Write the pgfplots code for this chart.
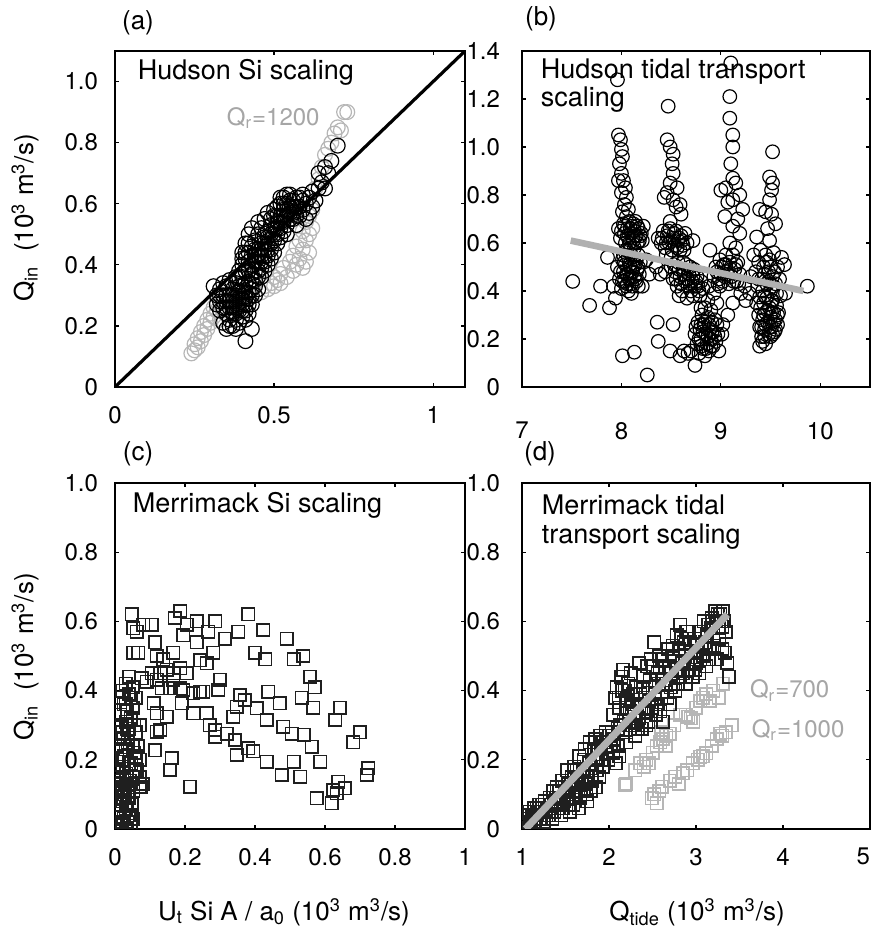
\documentclass[border=0pt]{standalone}
\usepackage{fontspec}
\setmainfont{TeX Gyre Heros}
\usepackage{pgfplots}
\pgfplotsset{compat=1.18}
\definecolor{ptgray}{HTML}{B6B6B6}
\definecolor{fitgray}{HTML}{B0B0B0}
\definecolor{txtgray}{HTML}{A6A6A6}

\newcommand{\tickfont}{\fontsize{12bp}{14bp}\selectfont}
\newcommand{\notefont}{\fontsize{13.5bp}{16bp}\selectfont}
\newcommand{\qrfont}{\fontsize{12bp}{14bp}\selectfont}
\newcommand{\labfont}{\fontsize{13bp}{15bp}\selectfont}

\pgfplotsset{
  panel/.style={
    scale only axis,
    clip marker paths=true,
    axis line style={line width=1bp},
    tick align=inside,
    major tick length=2.2bp,
    tick style={line width=0.6bp,black},
    tick label style={font=\tickfont},
    /pgf/number format/assume math mode=true,
    xticklabel style={yshift=-6bp},
    yticklabel style={xshift=-5bp},
  },
  circ/.style={only marks,mark=o,mark size=3.7bp,mark options={line width=0.6bp}},
  sq/.style={only marks,mark=square,mark size=3.1bp,mark options={line width=0.8bp}},
}

\begin{document}
\begin{tikzpicture}
\useasboundingbox (0,0) rectangle (436.5bp,463.5bp);

% (a) Hudson Si scaling
\begin{axis}[panel,at={(57.5bp,270bp)},anchor=south west,
  width=175bp,height=168bp,
  xmin=0,xmax=1.1,ymin=0,ymax=1.1,
  xtick={0,0.5,1},xticklabels={0,0.5,1},
  ytick={0,0.2,0.4,0.6,0.8,1.0},yticklabels={0,0.2,0.4,0.6,0.8,1.0}]
\addplot[circ,draw=ptgray] table {
0.24 0.11
0.25 0.12
0.25 0.14
0.26 0.13
0.26 0.16
0.27 0.15
0.27 0.18
0.28 0.17
0.28 0.20
0.29 0.19
0.29 0.22
0.30 0.21
0.30 0.24
0.31 0.23
0.31 0.26
0.32 0.25
0.32 0.28
0.33 0.22
0.34 0.25
0.44 0.30
0.46 0.31
0.47 0.33
0.48 0.32
0.49 0.34
0.50 0.33
0.50 0.36
0.51 0.35
0.52 0.37
0.52 0.34
0.53 0.39
0.54 0.36
0.55 0.41
0.56 0.38
0.56 0.43
0.57 0.40
0.57 0.46
0.58 0.42
0.58 0.48
0.59 0.45
0.59 0.51
0.60 0.48
0.60 0.54
0.61 0.50
0.61 0.56
0.61 0.44
0.62 0.52
0.62 0.58
0.60 0.41
0.59 0.39
0.63 0.61
0.63 0.65
0.64 0.68
0.65 0.72
0.66 0.76
0.67 0.78
0.68 0.80
0.69 0.83
0.70 0.85
0.71 0.84
0.73 0.90
0.72 0.90
};
\addplot[circ,draw=black] table {
0.31 0.33
0.32 0.30
0.33 0.28
0.33 0.32
0.34 0.26
0.34 0.30
0.35 0.24
0.35 0.28
0.35 0.33
0.36 0.22
0.36 0.26
0.36 0.30
0.37 0.20
0.37 0.24
0.37 0.28
0.37 0.32
0.38 0.22
0.38 0.26
0.38 0.30
0.38 0.34
0.39 0.21
0.39 0.25
0.39 0.29
0.39 0.33
0.40 0.23
0.40 0.27
0.40 0.31
0.40 0.36
0.41 0.25
0.41 0.29
0.41 0.34
0.42 0.27
0.42 0.31
0.42 0.38
0.43 0.30
0.43 0.35
0.44 0.33
0.35 0.19
0.34 0.21
0.41 0.15
0.43 0.19
0.38 0.19
0.39 0.38
0.40 0.40
0.40 0.44
0.41 0.42
0.41 0.47
0.42 0.44
0.42 0.50
0.43 0.40
0.43 0.46
0.43 0.52
0.44 0.38
0.44 0.43
0.44 0.48
0.45 0.36
0.45 0.41
0.45 0.45
0.45 0.50
0.45 0.54
0.46 0.39
0.46 0.43
0.46 0.47
0.46 0.52
0.47 0.41
0.47 0.45
0.47 0.49
0.47 0.55
0.48 0.43
0.48 0.47
0.48 0.51
0.48 0.57
0.49 0.45
0.49 0.50
0.49 0.53
0.50 0.48
0.50 0.52
0.50 0.56
0.51 0.50
0.51 0.54
0.51 0.59
0.52 0.52
0.52 0.56
0.52 0.60
0.53 0.54
0.53 0.58
0.53 0.62
0.54 0.50
0.54 0.56
0.54 0.60
0.55 0.55
0.55 0.59
0.55 0.63
0.56 0.57
0.56 0.61
0.57 0.53
0.57 0.59
0.58 0.56
0.58 0.62
0.59 0.58
0.59 0.63
0.60 0.55
0.60 0.60
0.61 0.57
0.61 0.62
0.62 0.59
0.62 0.64
0.63 0.61
0.64 0.65
0.64 0.70
0.65 0.67
0.66 0.65
0.66 0.72
0.68 0.74
0.70 0.79
0.67 0.70
0.32 0.27
0.33 0.25
0.34 0.34
0.35 0.30
0.36 0.35
0.36 0.20
0.37 0.26
0.38 0.24
0.38 0.36
0.39 0.27
0.39 0.31
0.40 0.25
0.40 0.29
0.40 0.33
0.41 0.22
0.41 0.27
0.41 0.31
0.41 0.38
0.42 0.24
0.42 0.29
0.42 0.34
0.43 0.27
0.43 0.32
0.43 0.37
0.44 0.30
0.44 0.35
0.44 0.41
0.45 0.32
0.45 0.38
0.45 0.43
0.46 0.36
0.46 0.41
0.46 0.45
0.47 0.38
0.47 0.43
0.47 0.47
0.48 0.40
0.48 0.45
0.48 0.49
0.49 0.42
0.49 0.47
0.49 0.55
0.50 0.44
0.50 0.50
0.50 0.58
0.51 0.47
0.51 0.52
0.51 0.56
0.52 0.49
0.52 0.54
0.52 0.62
0.53 0.51
0.53 0.56
0.53 0.60
0.54 0.53
0.54 0.58
0.54 0.63
0.55 0.57
0.55 0.61
0.56 0.55
0.56 0.59
0.57 0.56
0.57 0.62
0.58 0.59
0.59 0.61
0.44 0.45
0.43 0.43
0.42 0.41
0.42 0.47
0.41 0.44
0.40 0.42
0.39 0.36
0.38 0.28
0.37 0.30
0.36 0.28
0.35 0.26
0.34 0.28
0.33 0.30
};
\addplot[black,line width=1.6bp] coordinates {(0,0) (1.1,1.1)};
\node[anchor=west,font=\notefont] at (rel axis cs:0.045,0.9375) {Hudson Si scaling};
\node[anchor=east,font=\qrfont,text=txtgray] at (axis cs:0.665,0.88) {Q\textsubscript{r}=1200};
\end{axis}

% (b) Hudson tidal transport scaling
\begin{axis}[panel,at={(261bp,270bp)},anchor=south west,
  width=174bp,height=168bp,
  xmin=7,xmax=10.5,ymin=0,ymax=1.4,
  xtick={7,8,9,10},xticklabels={7,8,9,10},
  ytick={0,0.2,0.4,0.6,0.8,1.0,1.2,1.4},yticklabels={0,0.2,0.4,0.6,0.8,1.0,1.2,1.4},
  xticklabel style={yshift=-8bp},yticklabel style={xshift=-2.5bp}]
\addplot[circ,draw=black,mark size=3.4bp] table {
7.96 1.28
7.97 1.05
7.99 1.03
8.00 0.99
8.01 0.96
7.98 0.93
8.00 0.89
8.02 0.86
7.97 0.86
8.04 0.83
8.00 0.81
8.05 0.79
8.03 0.76
8.07 0.74
8.01 0.73
8.05 0.71
7.97 0.66
7.99 0.62
8.02 0.68
8.03 0.64
8.04 0.60
8.06 0.66
8.07 0.62
8.08 0.69
8.09 0.58
8.10 0.64
8.11 0.67
8.12 0.61
8.13 0.65
8.14 0.69
8.15 0.63
8.17 0.66
8.18 0.61
8.20 0.64
8.22 0.67
8.05 0.57
8.13 0.58
8.00 0.65
8.03 0.67
8.06 0.63
8.08 0.60
8.09 0.66
8.11 0.62
8.12 0.68
8.14 0.63
8.16 0.60
8.16 0.67
8.19 0.63
8.21 0.61
7.96 0.50
7.98 0.45
8.00 0.41
8.01 0.53
8.02 0.48
8.03 0.44
8.04 0.51
8.05 0.42
8.06 0.47
8.07 0.54
8.08 0.45
8.09 0.50
8.10 0.43
8.11 0.48
8.12 0.53
8.13 0.46
8.14 0.51
8.15 0.44
8.16 0.49
8.17 0.55
8.18 0.47
8.19 0.52
8.07 0.40
8.04 0.56
7.99 0.48
8.01 0.44
8.03 0.52
8.05 0.47
8.06 0.43
8.08 0.51
8.09 0.46
8.10 0.55
8.11 0.42
8.12 0.50
8.14 0.45
8.15 0.53
8.17 0.42
8.17 0.50
8.02 0.55
8.10 0.39
7.51 0.44
7.68 0.34
7.79 0.42
7.88 0.33
7.94 0.37
7.86 0.54
7.92 0.42
8.01 0.13
8.13 0.145
8.26 0.05
8.21 0.42
8.25 0.53
8.28 0.47
8.47 1.17
8.46 1.03
8.49 1.00
8.52 0.97
8.51 0.93
8.52 0.89
8.49 0.85
8.56 0.83
8.46 0.81
8.52 0.78
8.59 0.76
8.60 0.72
8.49 0.69
8.43 0.79
8.55 0.75
8.37 0.62
8.40 0.60
8.42 0.65
8.44 0.58
8.46 0.63
8.48 0.60
8.49 0.66
8.51 0.57
8.52 0.62
8.54 0.59
8.55 0.65
8.57 0.61
8.59 0.57
8.60 0.63
8.62 0.59
8.64 0.64
8.66 0.60
8.50 0.54
8.45 0.55
8.41 0.62
8.45 0.60
8.47 0.65
8.50 0.61
8.53 0.64
8.56 0.58
8.58 0.62
8.61 0.61
8.63 0.57
8.50 0.50
8.52 0.45
8.54 0.48
8.56 0.42
8.57 0.52
8.59 0.46
8.61 0.40
8.62 0.49
8.64 0.44
8.65 0.51
8.67 0.42
8.68 0.47
8.70 0.40
8.71 0.44
8.73 0.49
8.74 0.42
8.76 0.46
8.78 0.40
8.80 0.44
8.82 0.41
8.58 0.38
8.66 0.37
8.53 0.51
8.55 0.45
8.58 0.49
8.60 0.43
8.63 0.47
8.66 0.45
8.69 0.43
8.72 0.46
8.75 0.44
8.77 0.42
8.69 0.50
8.62 0.52
8.79 0.38
8.72 0.38
8.36 0.27
8.52 0.26
8.37 0.19
8.49 0.15
8.59 0.13
8.74 0.09
8.72 0.61
8.89 0.57
8.67 0.14
8.39 0.47
8.35 0.50
8.44 0.48
8.80 0.33
8.63 0.15
8.74 0.22
8.76 0.18
8.77 0.27
8.78 0.14
8.79 0.24
8.80 0.20
8.81 0.30
8.82 0.16
8.83 0.26
8.84 0.13
8.85 0.22
8.86 0.18
8.87 0.29
8.88 0.15
8.89 0.24
8.90 0.20
8.91 0.27
8.92 0.17
8.93 0.23
8.95 0.19
8.96 0.26
8.98 0.15
8.75 0.25
8.78 0.20
8.80 0.17
8.82 0.23
8.84 0.27
8.85 0.16
8.87 0.21
8.88 0.26
8.90 0.17
8.91 0.23
8.94 0.21
8.94 0.28
8.97 0.22
8.80 0.26
8.84 0.33
8.87 0.36
8.90 0.32
8.93 0.39
8.88 0.42
8.96 0.35
8.99 0.42
8.70 0.15
9.01 0.22
9.10 1.35
9.09 1.21
9.09 1.12
9.12 1.05
9.12 1.00
9.10 0.93
9.12 0.87
9.15 0.85
9.05 0.83
9.00 0.82
9.19 0.80
9.12 0.78
9.22 0.74
9.04 0.71
9.12 0.67
9.19 0.64
9.09 0.60
9.15 0.58
9.07 0.77
9.17 0.70
8.93 0.46
8.95 0.50
8.97 0.43
8.99 0.53
9.00 0.47
9.02 0.44
9.03 0.51
9.05 0.55
9.06 0.48
9.08 0.43
9.09 0.52
9.11 0.46
9.12 0.55
9.14 0.49
9.16 0.44
9.17 0.52
9.19 0.47
8.96 0.48
8.98 0.45
9.01 0.50
9.04 0.46
9.05 0.51
9.07 0.47
9.10 0.49
9.13 0.44
9.15 0.51
9.18 0.43
9.02 0.26
9.12 0.35
9.20 0.39
9.29 0.39
9.39 0.375
9.07 0.30
9.24 0.42
9.52 0.98
9.49 0.875
9.52 0.85
9.51 0.82
9.49 0.78
9.39 0.74
9.51 0.72
9.55 0.68
9.36 0.625
9.49 0.61
9.45 0.73
9.47 0.66
9.33 0.55
9.35 0.48
9.37 0.42
9.38 0.52
9.40 0.57
9.41 0.45
9.43 0.50
9.44 0.38
9.45 0.55
9.46 0.43
9.48 0.48
9.49 0.53
9.50 0.40
9.52 0.46
9.53 0.56
9.55 0.43
9.57 0.50
9.59 0.45
9.61 0.54
9.38 0.45
9.42 0.40
9.44 0.47
9.46 0.52
9.48 0.44
9.50 0.50
9.51 0.36
9.53 0.42
9.54 0.48
9.56 0.39
9.36 0.35
9.38 0.30
9.39 0.25
9.40 0.33
9.41 0.21
9.42 0.28
9.43 0.35
9.44 0.24
9.45 0.31
9.46 0.37
9.47 0.27
9.48 0.22
9.49 0.33
9.50 0.29
9.51 0.25
9.52 0.36
9.53 0.31
9.54 0.23
9.55 0.28
9.56 0.34
9.57 0.26
9.58 0.31
9.60 0.38
9.43 0.30
9.45 0.26
9.47 0.32
9.49 0.25
9.51 0.31
9.53 0.27
9.55 0.24
9.57 0.30
9.41 0.25
9.44 0.21
9.50 0.21
9.52 0.22
9.39 0.17
9.42 0.19
9.45 0.18
9.87 0.42
9.64 0.51
9.65 0.39
9.30 0.46
9.25 0.36
};
\addplot[fitgray,line width=3.3bp] coordinates {(7.49,0.61) (9.83,0.40)};
\node[anchor=west,font=\notefont] at (rel axis cs:0.034,0.9375) {Hudson tidal transport};
\node[anchor=west,font=\notefont] at (rel axis cs:0.034,0.854) {scaling};
\end{axis}

% (c) Merrimack Si scaling
\begin{axis}[panel,at={(57.5bp,49bp)},anchor=south west,
  width=175bp,height=173bp,
  xmin=0,xmax=1,ymin=0,ymax=1,
  xtick={0,0.2,0.4,0.6,0.8,1},xticklabels={0,0.2,0.4,0.6,0.8,1},
  ytick={0,0.2,0.4,0.6,0.8,1.0},yticklabels={0,0.2,0.4,0.6,0.8,1.0}]
\addplot[sq,draw=black!88] table {
0.005 0.02
0.010 0.05
0.015 0.01
0.020 0.08
0.025 0.03
0.030 0.06
0.035 0.02
0.040 0.09
0.045 0.04
0.008 0.11
0.018 0.13
0.028 0.10
0.038 0.12
0.048 0.07
0.003 0.08
0.012 0.15
0.022 0.18
0.032 0.16
0.042 0.14
0.052 0.11
0.006 0.20
0.016 0.23
0.026 0.21
0.036 0.25
0.046 0.19
0.056 0.17
0.010 0.26
0.020 0.28
0.030 0.31
0.040 0.29
0.050 0.24
0.060 0.21
0.015 0.33
0.025 0.36
0.035 0.34
0.045 0.38
0.020 0.40
0.030 0.42
0.040 0.39
0.050 0.35
0.060 0.28
0.070 0.20
0.070 0.15
0.075 0.12
0.065 0.24
0.055 0.30
0.012 0.00
0.030 0.00
0.045 0.01
0.020 0.12
0.035 0.07
0.050 0.03
0.010 0.38
0.006 0.24
0.080 0.13
0.005 0.05
0.015 0.07
0.025 0.09
0.035 0.11
0.045 0.13
0.010 0.17
0.020 0.20
0.030 0.23
0.040 0.19
0.050 0.15
0.015 0.30
0.025 0.26
0.035 0.29
0.045 0.32
0.055 0.22
0.005 0.14
0.030 0.36
0.040 0.44
0.050 0.41
0.060 0.38
0.070 0.30
0.020 0.02
0.040 0.04
0.008 0.00
0.048 0.62
0.052 0.58
0.062 0.57
0.067 0.51
0.052 0.51
0.081 0.59
0.105 0.59
0.114 0.54
0.119 0.50
0.138 0.49
0.167 0.51
0.186 0.63
0.171 0.61
0.195 0.56
0.205 0.59
0.233 0.60
0.233 0.54
0.267 0.57
0.286 0.60
0.281 0.51
0.314 0.55
0.352 0.57
0.381 0.62
0.424 0.575
0.400 0.51
0.429 0.49
0.490 0.55
0.510 0.49
0.538 0.50
0.557 0.44
0.571 0.41
0.533 0.38
0.567 0.35
0.643 0.35
0.629 0.315
0.700 0.28
0.681 0.25
0.724 0.175
0.719 0.156
0.638 0.137
0.657 0.118
0.624 0.113
0.633 0.103
0.576 0.089
0.619 0.074
0.586 0.195
0.562 0.238
0.540 0.272
0.510 0.195
0.529 0.151
0.476 0.156
0.433 0.195
0.395 0.224
0.348 0.214
0.381 0.233
0.481 0.296
0.505 0.276
0.471 0.363
0.438 0.397
0.433 0.315
0.405 0.349
0.371 0.373
0.348 0.354
0.357 0.387
0.338 0.325
0.343 0.257
0.319 0.276
0.286 0.286
0.286 0.267
0.271 0.300
0.262 0.334
0.295 0.402
0.300 0.431
0.252 0.397
0.243 0.397
0.224 0.392
0.190 0.363
0.224 0.334
0.262 0.479
0.243 0.488
0.205 0.450
0.186 0.407
0.157 0.407
0.148 0.325
0.119 0.334
0.110 0.363
0.119 0.281
0.129 0.286
0.114 0.228
0.162 0.204
0.157 0.171
0.214 0.122
0.105 0.450
0.119 0.431
0.133 0.407
0.129 0.450
0.148 0.460
0.167 0.431
0.090 0.426
0.076 0.435
0.186 0.464
0.195 0.402
0.167 0.450
0.071 0.122
0.062 0.170
};
\node[anchor=west,font=\notefont] at (rel axis cs:0.031,0.936) {Merrimack Si scaling};
\end{axis}

% (d) Merrimack tidal transport scaling
\begin{axis}[panel,at={(261bp,49bp)},anchor=south west,
  width=174bp,height=173bp,
  xmin=1,xmax=5,ymin=0,ymax=1,
  xtick={1,2,3,4,5},xticklabels={1,2,3,4,\llap{5}},
  ytick={0,0.2,0.4,0.6,0.8,1.0},yticklabels={0,0.2,0.4,0.6,0.8,1.0},
  yticklabel style={xshift=-2.5bp}]
\addplot[sq,draw=ptgray] table {
2.18 0.127
2.20 0.13
2.30 0.17
2.36 0.19
2.40 0.18
2.43 0.20
2.46 0.19
2.50 0.22
2.55 0.24
2.59 0.25
2.62 0.26
2.65 0.24
2.70 0.276
2.75 0.30
2.82 0.33
2.88 0.33
2.91 0.325
2.94 0.32
2.97 0.31
3.00 0.35
3.05 0.37
3.08 0.38
3.12 0.39
3.16 0.37
3.20 0.40
3.26 0.38
3.31 0.42
2.60 0.28
2.66 0.27
2.49 0.089
2.52 0.10
2.55 0.074
2.58 0.11
2.61 0.122
2.70 0.14
2.76 0.151
2.80 0.13
2.85 0.161
2.90 0.17
2.96 0.19
3.02 0.20
3.05 0.209
3.08 0.21
3.12 0.219
3.18 0.24
3.24 0.26
3.28 0.276
3.30 0.27
3.34 0.28
3.41 0.30
};
\addplot[sq,draw=black!88] table {
1.00 0.02
1.02 0.04
1.04 0.01
1.06 0.03
1.08 0.05
1.10 0.02
1.12 0.04
1.14 0.06
1.16 0.03
1.18 0.05
1.20 0.07
1.22 0.03
1.24 0.05
1.26 0.08
1.28 0.04
1.30 0.06
1.32 0.09
1.34 0.05
1.36 0.11
1.38 0.07
1.40 0.12
1.42 0.06
1.44 0.09
1.46 0.14
1.48 0.08
1.50 0.11
1.52 0.17
1.54 0.07
1.56 0.13
1.58 0.10
1.60 0.18
1.62 0.09
1.64 0.14
1.66 0.21
1.68 0.11
1.70 0.17
1.72 0.23
1.74 0.10
1.76 0.15
1.78 0.25
1.80 0.14
1.82 0.20
1.84 0.26
1.86 0.17
1.88 0.23
1.90 0.27
1.92 0.20
1.94 0.25
1.96 0.28
1.98 0.22
2.00 0.27
2.02 0.24
2.05 0.33
2.07 0.38
2.09 0.41
2.10 0.29
2.12 0.35
2.14 0.44
2.15 0.40
2.17 0.31
2.19 0.37
2.20 0.28
2.22 0.42
2.24 0.34
2.26 0.30
2.28 0.39
2.30 0.27
2.32 0.36
2.34 0.32
2.36 0.39
2.38 0.29
2.40 0.44
2.42 0.34
2.44 0.47
2.46 0.37
2.48 0.49
2.50 0.41
2.52 0.54
2.54 0.33
2.56 0.45
2.58 0.50
2.60 0.38
2.62 0.31
2.64 0.47
2.66 0.42
2.68 0.52
2.70 0.36
2.72 0.45
2.74 0.50
2.76 0.40
2.78 0.56
2.80 0.44
2.82 0.59
2.84 0.48
2.86 0.54
2.88 0.42
2.90 0.57
2.92 0.46
2.94 0.51
2.96 0.44
2.98 0.55
3.00 0.48
3.02 0.53
3.04 0.45
3.06 0.57
3.08 0.50
3.10 0.54
3.12 0.47
3.14 0.59
3.16 0.52
3.18 0.61
3.20 0.56
3.22 0.63
3.24 0.49
3.26 0.58
3.28 0.62
3.30 0.52
3.32 0.60
3.34 0.57
3.36 0.48
3.38 0.44
3.30 0.585
1.03 0.05
1.01 0.00
1.07 0.00
1.15 0.01
1.25 0.02
1.35 0.03
1.45 0.04
1.55 0.05
1.65 0.06
1.75 0.08
1.85 0.12
2.10 0.24
2.20 0.25
2.16 0.46
2.25 0.45
2.35 0.48
2.12 0.21
2.08 0.19
2.05 0.22
2.45 0.31
2.55 0.36
1.05 0.03
1.09 0.01
1.13 0.02
1.17 0.06
1.21 0.04
1.23 0.07
1.27 0.05
1.31 0.04
1.33 0.07
1.37 0.05
1.39 0.09
1.41 0.08
1.43 0.11
1.47 0.06
1.49 0.12
1.51 0.09
1.53 0.13
1.57 0.15
1.59 0.07
1.61 0.12
1.63 0.17
1.67 0.09
1.69 0.14
1.71 0.20
1.73 0.13
1.77 0.19
1.79 0.11
1.81 0.17
1.83 0.23
1.87 0.20
1.89 0.15
1.91 0.24
1.93 0.18
1.97 0.25
1.99 0.20
2.03 0.28
2.06 0.26
2.11 0.38
2.13 0.30
2.18 0.40
2.21 0.35
2.23 0.31
2.27 0.36
2.29 0.33
2.31 0.41
2.33 0.29
2.37 0.35
2.39 0.41
2.41 0.38
2.43 0.30
2.47 0.43
2.49 0.35
2.51 0.47
2.53 0.39
2.57 0.42
2.59 0.34
2.61 0.49
2.63 0.43
2.67 0.38
2.69 0.47
2.71 0.41
2.73 0.53
2.77 0.46
2.79 0.42
2.81 0.52
2.83 0.55
2.85 0.45
2.87 0.50
2.89 0.57
2.91 0.48
2.93 0.54
2.97 0.49
2.99 0.46
3.01 0.51
3.03 0.57
3.05 0.49
3.07 0.53
3.09 0.60
3.11 0.52
3.13 0.56
3.15 0.49
3.17 0.58
3.19 0.60
3.21 0.53
3.23 0.60
3.25 0.62
3.27 0.55
3.29 0.60
3.31 0.63
3.33 0.51
};
\addplot[fitgray,line width=3.6bp] coordinates {(1.04,0) (3.36,0.62)};
\node[anchor=west,font=\notefont] at (rel axis cs:0.037,0.936) {Merrimack tidal};
\node[anchor=west,font=\notefont] at (rel axis cs:0.037,0.844) {transport scaling};
\node[anchor=west,font=\qrfont,text=txtgray] at (axis cs:3.54,0.40) {Q\textsubscript{r}=700};
\node[anchor=west,font=\qrfont,text=txtgray] at (axis cs:3.56,0.286) {Q\textsubscript{r}=1000};
\end{axis}

% panel letters and axis labels
\node[font=\labfont] at (69bp,452bp) {(a)};
\node[font=\labfont] at (270.5bp,454bp) {(b)};
\node[font=\labfont] at (69bp,236.5bp) {(c)};
\node[font=\labfont] at (270bp,236.5bp) {(d)};
\node[font=\labfont,rotate=90,anchor=base] at (16.5bp,354.5bp) {Q\textsubscript{in}\ \ (10\textsuperscript{3} m\textsuperscript{3}/s)};
\node[font=\labfont,rotate=90,anchor=base] at (16.5bp,135bp) {Q\textsubscript{in}\ \ (10\textsuperscript{3} m\textsuperscript{3}/s)};
\node[font=\labfont,anchor=base] at (142bp,3.5bp) {U\textsubscript{t} Si A / a\textsubscript{0} (10\textsuperscript{3} m\textsuperscript{3}/s)};
\node[font=\labfont,anchor=base] at (348.5bp,3.5bp) {Q\textsubscript{tide} (10\textsuperscript{3} m\textsuperscript{3}/s)};
\end{tikzpicture}
\end{document}
